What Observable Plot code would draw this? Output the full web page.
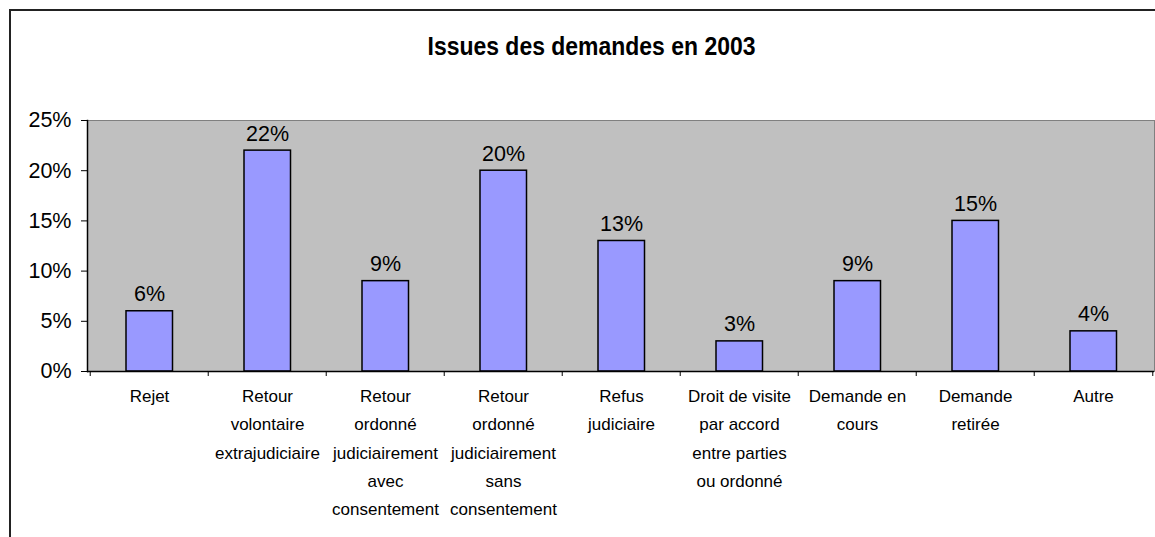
<!DOCTYPE html>
<html><head><meta charset="utf-8">
<script src="https://cdn.jsdelivr.net/npm/d3@7"></script>
<script src="https://cdn.jsdelivr.net/npm/@observablehq/plot@0.6"></script>
<style>
html,body{margin:0;padding:0;background:#fff;overflow:hidden}
#wrap{position:relative;width:1155px;height:537px;overflow:hidden}
#wrap svg{position:absolute;left:0;top:0}
.bl{position:absolute;background:#222;pointer-events:none}
#bv{left:9px;top:9px;width:2px;height:528px}
#bh{left:9px;top:9px;width:1146px;height:2px}
</style></head><body><div id="wrap"><div class="bl" id="bv"></div><div class="bl" id="bh"></div></div>
<script>
const title = "Issues des demandes en 2003";
const categories = [
  "Rejet",
  "Retour\nvolontaire\nextrajudiciaire",
  "Retour\nordonné\njudiciairement\navec\nconsentement",
  "Retour\nordonné\njudiciairement\nsans\nconsentement",
  "Refus\njudiciaire",
  "Droit de visite\npar accord\nentre parties\nou ordonné",
  "Demande en\ncours",
  "Demande\nretirée",
  "Autre"
];
const values = [0.06, 0.22, 0.09, 0.20, 0.13, 0.03, 0.09, 0.15, 0.04];
const yTicks = [0, 0.05, 0.10, 0.15, 0.20, 0.25];

const data = categories.map((c, i) => ({category: c, value: values[i]}));
const fmt = d3.format(".0%");
const W = 1155, ML = 87, MR = 1;
const step = (W - ML - MR) / categories.length;

const chart = Plot.plot({
  width: W, height: 537,
  marginLeft: ML, marginRight: MR, marginTop: 120, marginBottom: 166,
  style: {fontFamily: "'Liberation Sans', Arial, sans-serif", background: "transparent", color: "#000"},
  x: {type: "band", domain: categories, padding: 0, axis: null},
  y: {domain: [0, 0.25], axis: null},
  marks: [
    Plot.frame({fill: "#c0c0c0", stroke: "#808080"}),
    Plot.barY(data, {x: "category", y: "value", fill: "#9999ff", stroke: "#000", strokeWidth: 1.5, insetLeft: 36, insetRight: 35.5}),
    Plot.text(data, {x: "category", y: "value", text: d => fmt(d.value), dy: -17, fontSize: 21.5}),
    Plot.ruleY([0], {stroke: "#000", strokeWidth: 1.5}),
    Plot.frame({anchor: "left", stroke: "#000", strokeWidth: 1.5}),
    Plot.axisY({ticks: yTicks, tickFormat: fmt, tickSize: 6, tickPadding: 10, fontSize: 21.5, label: null}),
    Plot.axisX({tickSize: 5, dx: -step / 2, tickFormat: () => "", label: null}),
    Plot.axisX({ticks: [categories[categories.length - 1]], tickSize: 5, dx: step / 2, tickFormat: () => "", label: null}),
    Plot.axisX({tickSize: 0, tickPadding: 11, fontSize: 17, lineHeight: 1.65, label: null, tickFormat: d => d}),
    Plot.text([title], {frameAnchor: "top", lineAnchor: "middle", dy: -74, dx: -29.5, fontSize: 26, fontWeight: "bold"})
  ]
});
d3.select(chart).selectAll("text")
  .filter(function() { return this.textContent === title; })
  .attr("textLength", 328).attr("lengthAdjust", "spacingAndGlyphs");
document.getElementById("wrap").prepend(chart);
</script>
</body></html>
